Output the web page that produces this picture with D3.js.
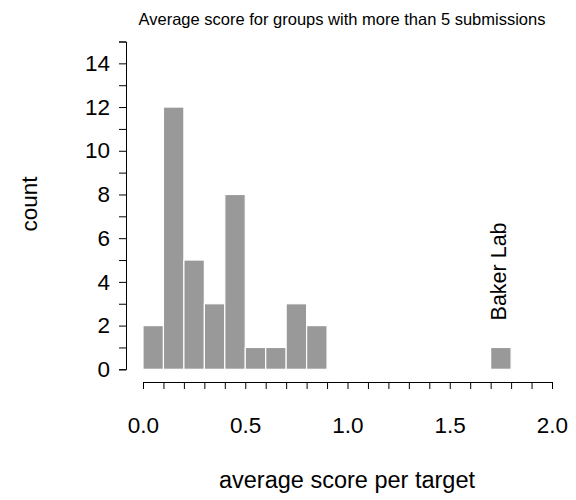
<!DOCTYPE html>
<html>
<head>
<meta charset="utf-8">
<script src="https://cdn.jsdelivr.net/npm/d3@7"></script>
<style>
    body { margin: 0; background: #fff; }
    svg text { font-family: "Liberation Sans", Arial, sans-serif; fill: #000; }
    .axis text { font-size: 22.5px; }
    .axis path, .axis line { stroke: #000; stroke-width: 1; }
</style>
</head>
<body>
<div id="chart"></div>
<script>
// Histogram bins (lower edges) and counts
const binStarts = [0.0, 0.1, 0.2, 0.3, 0.4, 0.5, 0.6, 0.7, 0.8, 0.9,
                   1.0, 1.1, 1.2, 1.3, 1.4, 1.5, 1.6, 1.7, 1.8, 1.9];
const counts = [2, 12, 5, 3, 8, 1, 1, 3, 2, 0,
                0, 0, 0, 0, 0, 0, 0, 1, 0, 0];
const binWidth = 0.1;
const xTickValues = d3.range(0, 21).map(i => i / 10);
const xLabelValues = [0.0, 0.5, 1.0, 1.5, 2.0];
const yTickValues = d3.range(0, 16);
const annotation = { label: "Baker Lab", bin: 1.7 };

const outerWidth = 576, outerHeight = 500;

// Set up scales
const x = d3.scaleLinear()
    .domain([0, 2])
    .range([143, 552]);
const y = d3.scaleLinear()
    .domain([0, 15])
    .range([369.3, 41.5]);

const svg = d3.select("#chart")
    .append("svg")
        .attr("width", outerWidth)
        .attr("height", outerHeight)
;

// Bars
const data = binStarts.map((b, i) => ({ x0: b, x1: b + binWidth, count: counts[i] }));
svg.append("g")
    .attr("id", "bars")
    .selectAll("rect")
        .data(data)
        .join("rect")
            .attr("x", d => x(d.x0))
            .attr("width", d => x(d.x1) - x(d.x0))
            .attr("y", d => y(d.count))
            .attr("height", d => y(0) - y(d.count))
            .attr("fill", "#999999")
            .attr("stroke", d => d.count > 0 ? "#ffffff" : "#eeeeee")
            .attr("stroke-width", 1.2)
;

// X axis
svg.append("g")
    .attr("class", "axis")
    .attr("transform", "translate(0,382)")
    .call(d3.axisBottom(x)
        .tickValues(xTickValues)
        .tickSize(7)
        .tickPadding(28)
        .tickFormat(d => xLabelValues.some(v => Math.abs(v - d) < 1e-9) ? d3.format(".1f")(d) : "")
    )
;

// Y axis
svg.append("g")
    .attr("class", "axis")
    .attr("transform", "translate(126,0)")
    .call(d3.axisLeft(y)
        .tickValues(yTickValues)
        .tickSize(7)
        .tickPadding(9)
        .tickFormat(d => d % 2 === 0 && d < 15 ? d : "")
    )
;

// Annotation for the outlier
const bakerX = x(annotation.bin + binWidth / 2);
svg.append("text")
    .attr("transform", `translate(${bakerX + 5},${y(1) - 27}) rotate(-90)`)
    .attr("font-size", "21.5px")
    .text(annotation.label)
;

// Titles
svg.append("text")
    .attr("x", 342)
    .attr("y", 25)
    .attr("text-anchor", "middle")
    .attr("font-size", "16.5px")
    .text("Average score for groups with more than 5 submissions")
;
svg.append("text")
    .attr("x", 347)
    .attr("y", 488)
    .attr("text-anchor", "middle")
    .attr("font-size", "23.5px")
    .text("average score per target")
;
svg.append("text")
    .attr("transform", "translate(36.5,204) rotate(-90)")
    .attr("text-anchor", "middle")
    .attr("font-size", "22.5px")
    .text("count")
;
</script>
</body>
</html>
